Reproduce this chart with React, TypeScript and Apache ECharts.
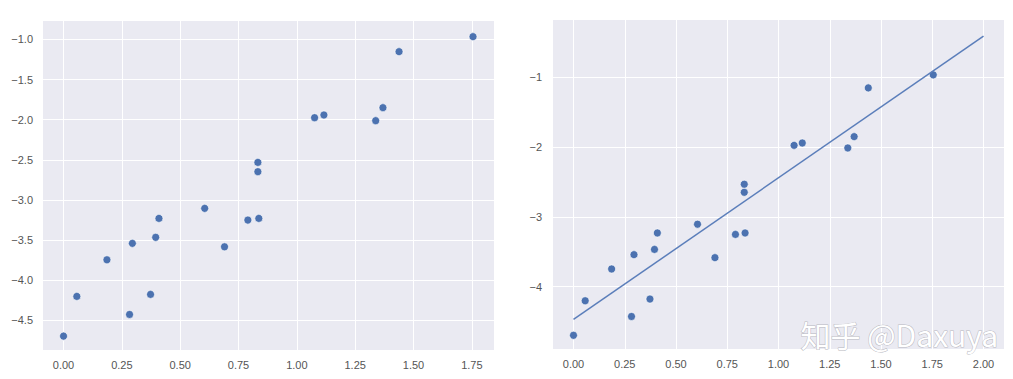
import React, { useEffect, useRef } from "react";
import * as echarts from "echarts";

const xValues = [0.0, 0.057, 0.186, 0.283, 0.295, 0.373, 0.395, 0.409, 0.605, 0.69, 0.79, 0.837, 0.833, 0.833, 1.076, 1.116, 1.338, 1.369, 1.438, 1.755];
const yValues = [-4.697, -4.202, -3.746, -4.427, -3.541, -4.177, -3.466, -3.23, -3.105, -3.584, -3.251, -3.23, -2.648, -2.532, -1.975, -1.941, -2.012, -1.85, -1.152, -0.965];
const fitX = [0, 2];
const fitY = [-4.47, -0.41];

const leftXTicks = [0, 0.25, 0.5, 0.75, 1.0, 1.25, 1.5, 1.75];
const leftYTicks = [-4.5, -4.0, -3.5, -3.0, -2.5, -2.0, -1.5, -1.0];
const rightXTicks = [0, 0.25, 0.5, 0.75, 1.0, 1.25, 1.5, 1.75, 2.0];
const rightYTicks = [-4, -3, -2, -1];

const minus = (s: string) => s.replace("-", "\u2212");

export default function App() {
  const ref = useRef<HTMLDivElement>(null);
  useEffect(() => {
    if (!ref.current) return;
    const chart = echarts.init(ref.current, undefined, { renderer: "svg" });
    const points = xValues.map((x, i) => [x, yValues[i]]);
    const fit = fitX.map((x, i) => [x, fitY[i]]);
    const labelStyle = { color: "#555", fontSize: 11, fontFamily: "Liberation Sans, Arial, sans-serif" };
    const splitLine = { show: true, lineStyle: { color: "#ffffff", width: 1 } };
    const axis = (gridIndex: number, min: number, max: number, ticks: number[], digits: number, margin: number) => ({
      type: "value" as const,
      gridIndex,
      min,
      max,
      axisLine: { show: false },
      axisTick: { show: false, customValues: ticks },
      splitLine,
      axisLabel: { ...labelStyle, margin, customValues: ticks, formatter: (v: number) => minus(v.toFixed(digits)) },
    });
    chart.setOption({
      animation: false,
      grid: [
        { left: 43, top: 21, width: 451, height: 329, show: true, backgroundColor: "#EAEAF2", borderWidth: 0 },
        { left: 553, top: 20, width: 451, height: 329, show: true, backgroundColor: "#EAEAF2", borderWidth: 0 },
      ],
      xAxis: [
        axis(0, -0.088, 1.845, leftXTicks, 2, 9),
        axis(1, -0.1, 2.1, rightXTicks, 2, 9),
      ],
      yAxis: [
        axis(0, -4.87, -0.77, leftYTicks, 1, 10),
        axis(1, -4.893, -0.179, rightYTicks, 0, 11),
      ],
      series: [
        {
          type: "scatter", xAxisIndex: 0, yAxisIndex: 0, data: points, symbolSize: 8,
          itemStyle: { color: "#4C72B0", borderColor: "#ffffff", borderWidth: 0.6, opacity: 1 },
        },
        {
          type: "line", xAxisIndex: 1, yAxisIndex: 1, data: fit, showSymbol: false,
          lineStyle: { color: "#5B7EBA", width: 1.5 },
        },
        {
          type: "scatter", xAxisIndex: 1, yAxisIndex: 1, data: points, symbolSize: 8,
          itemStyle: { color: "#4C72B0", borderColor: "#ffffff", borderWidth: 0.6, opacity: 1 },
        },
      ],
      graphic: [
        {
          type: "text", left: 800, top: 318, z: 100,
          style: {
            text: "知乎 @Daxuya",
            fill: "#ffffff",
            font: "30px 'Noto Sans CJK SC', 'Noto Sans', sans-serif",
            stroke: "#b8b8c0",
            lineWidth: 1,
          },
        },
      ],
    });
    return () => chart.dispose();
  }, []);
  return <div ref={ref} style={{ position: "fixed", left: 0, top: 0, width: 1013, height: 379, background: "#fff" }} />;
}
